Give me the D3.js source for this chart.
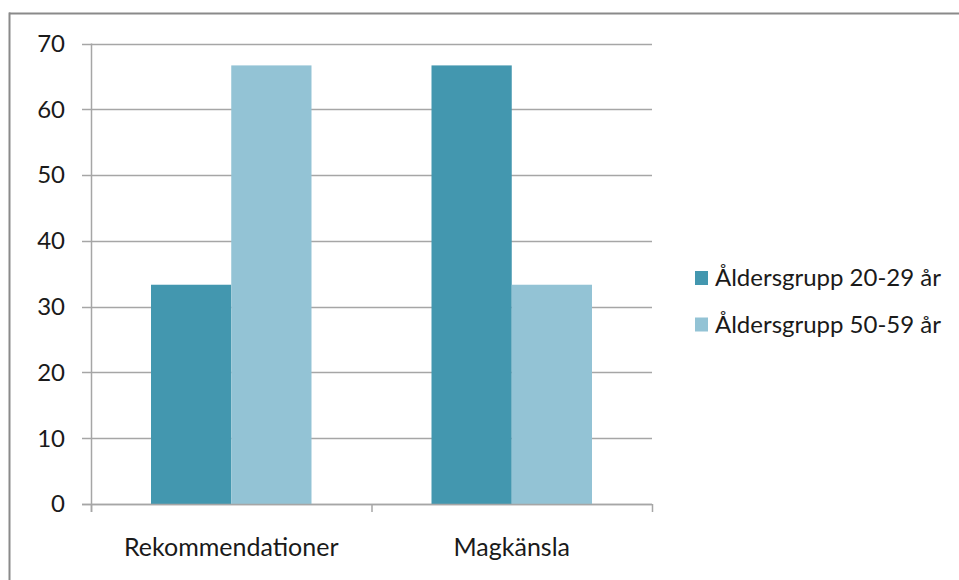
<!DOCTYPE html>
<html><head><meta charset="utf-8">
<script src="https://cdn.jsdelivr.net/npm/d3@7/dist/d3.min.js"></script>
<style>body{margin:0;background:#fff}svg{display:block}text{font-family:Lato,"Open Sans",sans-serif;fill:#1a1a1a}</style>
</head><body>
<script>
const categories = ["Rekommendationer", "Magkänsla"];
const seriesNames = ["Åldersgrupp 20-29 år", "Åldersgrupp 50-59 år"];
const series20_29 = [33.33, 66.67];
const series50_59 = [66.67, 33.33];
const yTicks = [0, 10, 20, 30, 40, 50, 60, 70];
const colors = ["#4397AF", "#93C3D5"];

(function () {
const W = 959, H = 580;
const svg = d3.select("body").append("svg").attr("width", W).attr("height", H);

svg.append("line").attr("x1", 9).attr("x2", W).attr("y1", 13.5).attr("y2", 13.5).attr("stroke", "#8a8a8a").attr("stroke-width", 2);
svg.append("line").attr("x1", 9.5).attr("x2", 9.5).attr("y1", 12.5).attr("y2", H).attr("stroke", "#8a8a8a").attr("stroke-width", 2);

const pl = 91, pr = 652, pt = 43.5, pb = 504;
const x = d3.scaleBand().domain(categories).range([pl, pr]).paddingInner(0).paddingOuter(0);
const y = d3.scaleLinear().domain([0, 70]).range([pb, pt]);
const inner = 60 / 280.5;
const xs = d3.scaleBand().domain(seriesNames).range([x.bandwidth() * inner, x.bandwidth() * (1 - inner)]);

svg.append("g").selectAll("line").data(yTicks).join("line")
  .attr("x1", pl - 9).attr("x2", pr)
  .attr("y1", d => Math.round(y(d)) + 0.5).attr("y2", d => Math.round(y(d)) + 0.5)
  .attr("stroke", "#a6a6a6").attr("stroke-width", 1.5);

const data = [series20_29, series50_59];
categories.forEach((c, ci) => {
  data.forEach((s, si) => {
    svg.append("rect")
      .attr("x", x(c) + xs(seriesNames[si]))
      .attr("width", xs.bandwidth())
      .attr("y", y(s[ci]))
      .attr("height", y(0) - y(s[ci]))
      .attr("fill", colors[si]);
  });
});

svg.append("line").attr("x1", pl + 0.5).attr("x2", pl + 0.5).attr("y1", pt).attr("y2", pb + 8).attr("stroke", "#a6a6a6").attr("stroke-width", 1.5);
const bounds = categories.map(c => x(c)).concat([pr]);
svg.append("g").selectAll("line").data(bounds).join("line")
  .attr("x1", d => d + 0.5).attr("x2", d => d + 0.5)
  .attr("y1", pb).attr("y2", pb + 8)
  .attr("stroke", "#a6a6a6").attr("stroke-width", 1.5);
svg.append("line").attr("x1", pl - 9).attr("x2", pr).attr("y1", Math.round(y(0)) + 0.5).attr("y2", Math.round(y(0)) + 0.5).attr("stroke", "#a6a6a6").attr("stroke-width", 1.5);

svg.append("g").selectAll("text").data(yTicks).join("text")
  .attr("x", 65).attr("y", d => y(d)).attr("dy", "0.35em")
  .attr("text-anchor", "end").attr("font-size", 24).text(d => d);

svg.append("g").selectAll("text").data(categories).join("text")
  .attr("x", d => x(d) + x.bandwidth() / 2).attr("y", 556)
  .attr("text-anchor", "middle").attr("font-size", 25).text(d => d);

const lg = svg.append("g");
seriesNames.forEach((n, i) => {
  const cy = 278 + i * 46.5;
  lg.append("rect").attr("x", 695).attr("y", cy - 7).attr("width", 13).attr("height", 14).attr("fill", colors[i]);
  lg.append("text").attr("x", 715).attr("y", cy).attr("dy", "0.35em").attr("font-size", 24).text(n);
});
})();
</script>
</body></html>
